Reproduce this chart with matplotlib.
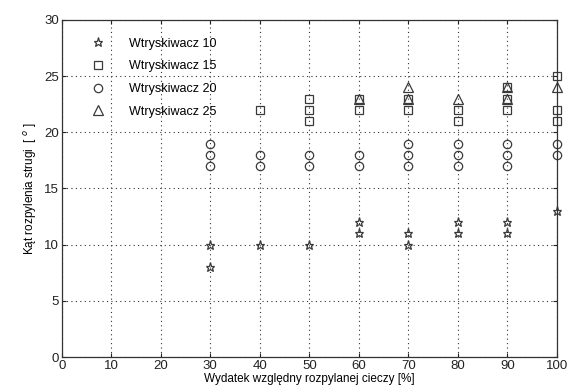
import matplotlib.pyplot as plt

plt.rcParams['font.family'] = ['Liberation Sans', 'DejaVu Sans']

# Wtryskiwacz 10 (stars)
x10 = [30, 30, 40, 50, 60, 60, 70, 70, 80, 80, 90, 90, 100]
y10 = [10, 8, 10, 10, 12, 11, 11, 10, 12, 11, 12, 11, 13]
# Wtryskiwacz 15 (squares)
x15 = [40, 50, 50, 50, 60, 60, 70, 70, 80, 80, 90, 90, 90, 100, 100, 100]
y15 = [22, 23, 22, 21, 23, 22, 23, 22, 22, 21, 24, 23, 22, 25, 22, 21]
# Wtryskiwacz 20 (circles)
x20 = [30, 30, 30, 40, 40, 50, 50, 60, 60, 70, 70, 70, 80, 80, 80, 90, 90, 90, 100, 100]
y20 = [19, 18, 17, 18, 17, 18, 17, 18, 17, 19, 18, 17, 19, 18, 17, 19, 18, 17, 19, 18]
# Wtryskiwacz 25 (triangles)
x25 = [60, 70, 70, 80, 90, 90, 100]
y25 = [23, 24, 23, 23, 24, 23, 24]

labels = ['Wtryskiwacz 10', 'Wtryskiwacz 15', 'Wtryskiwacz 20', 'Wtryskiwacz 25']
xticks = list(range(0, 101, 10))
yticks = list(range(0, 31, 5))

fig = plt.figure(figsize=(5.67, 3.89), dpi=100)
ax = fig.add_axes([0.109, 0.082, 0.873, 0.867])

col = '#3a3a3a'
kw = dict(linestyle='none', markerfacecolor='none', markeredgecolor=col,
          markeredgewidth=0.9, clip_on=False)
ax.plot(x10, y10, marker='*', markersize=6.5, label=labels[0], **kw)
ax.plot(x15, y15, marker='s', markersize=6, label=labels[1], **kw)
ax.plot(x20, y20, marker='o', markersize=6, label=labels[2], **kw)
ax.plot(x25, y25, marker='^', markersize=6.5, label=labels[3], **kw)

ax.set_xlim(0, 100)
ax.set_ylim(0, 30)
ax.set_xticks(xticks)
ax.set_yticks(yticks)
ax.tick_params(direction='in', top=True, right=True, labelsize=9.5,
               length=3, colors='#222222', pad=2)
ax.grid(True, linestyle=(0, (1, 3)), color='#333333', linewidth=0.8)
for s in ax.spines.values():
    s.set_color('#333333')
    s.set_linewidth(0.9)

ax.set_xlabel('Wydatek względny rozpylanej cieczy [%]', fontsize=8.5, labelpad=0.5)
ax.set_ylabel('Kąt rozpylenia strugi  [ $^{o}$ ]', fontsize=8.5, labelpad=4)

leg = ax.legend(loc='upper left', frameon=False, fontsize=9,
                bbox_to_anchor=(0.025, 0.98), handletextpad=1.5,
                labelspacing=0.85)

fig.savefig('out.png', dpi=100)
